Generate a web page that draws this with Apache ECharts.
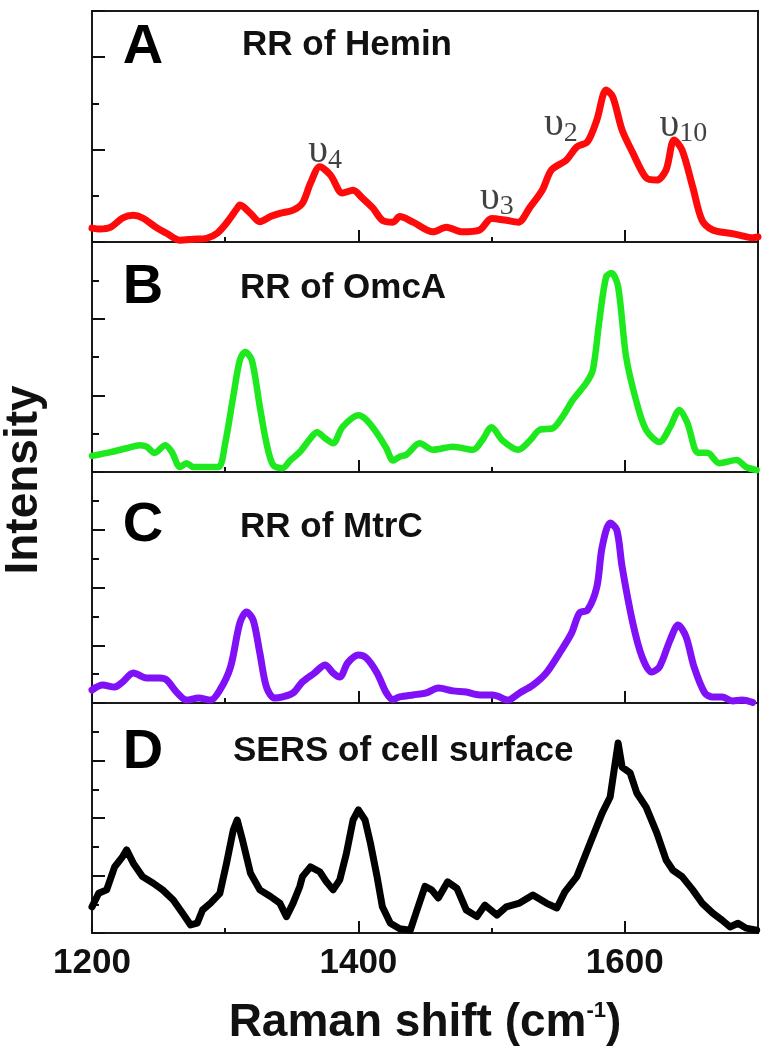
<!DOCTYPE html>
<html><head><meta charset="utf-8">
<script src="https://cdn.jsdelivr.net/npm/echarts@6/dist/echarts.min.js"></script>
<style>html,body{margin:0;padding:0;background:#fff}#c{width:772px;height:1050px}</style>
</head><body><div id="c"></div>
<script>
// ---- data (Raman shift in cm-1, intensity in arbitrary units per panel) ----
const hemX = [1200,1206,1214,1223,1231,1238,1249,1256,1266,1276,1286,1294,1301,1309,1311,1319,1326,1334,1341,1351,1358,1364,1371,1379,1388,1396,1403,1411,1418,1426,1431,1441,1456,1466,1478,1491,1500,1511,1520,1529,1538,1545,1556,1564,1572,1579,1586,1591,1598,1606,1616,1624,1631,1637,1643,1651,1658,1666,1679,1686,1696,1700];
const hemY = [0.30,0.28,0.32,0.52,0.58,0.52,0.30,0.19,0.04,0.06,0.08,0.19,0.41,0.73,0.80,0.62,0.44,0.55,0.62,0.69,0.84,1.27,1.63,1.45,1.06,1.12,0.95,0.73,0.47,0.43,0.55,0.43,0.22,0.32,0.22,0.26,0.51,0.47,0.43,0.76,1.12,1.56,1.77,2.06,2.17,2.64,3.29,3.14,2.42,1.93,1.39,1.34,1.56,2.21,1.99,1.19,0.47,0.26,0.19,0.15,0.09,0.11];

const omcX = [1200,1214,1226,1236,1241,1247,1255,1260,1266,1271,1276,1286,1295,1300,1306,1311,1315,1320,1326,1331,1336,1343,1349,1356,1364,1369,1375,1381,1388,1400,1406,1414,1421,1426,1431,1436,1446,1456,1471,1486,1493,1500,1508,1520,1529,1536,1546,1553,1561,1571,1576,1581,1586,1590,1595,1601,1609,1616,1626,1634,1641,1647,1655,1662,1671,1684,1691,1699];
const omcY = [0.42,0.52,0.62,0.70,0.66,0.50,0.70,0.52,0.13,0.23,0.13,0.13,0.13,0.75,1.96,2.92,3.13,2.92,1.70,0.75,0.18,0.10,0.31,0.52,0.88,1.04,0.88,0.75,1.17,1.48,1.36,1.01,0.62,0.30,0.40,0.45,0.75,0.58,0.66,0.58,0.83,1.17,0.83,0.58,0.83,1.10,1.14,1.43,1.88,2.32,2.66,3.97,5.09,5.19,4.83,3.00,1.80,1.10,0.78,1.17,1.62,1.28,0.50,0.50,0.23,0.31,0.13,0.05];

const mtrX = [1200,1208,1217,1223,1231,1241,1251,1256,1264,1271,1280,1289,1296,1304,1311,1316,1321,1326,1331,1337,1343,1351,1358,1367,1375,1381,1386,1392,1400,1406,1414,1421,1426,1431,1441,1451,1460,1471,1481,1491,1501,1506,1512,1521,1531,1541,1551,1560,1566,1572,1579,1583,1589,1594,1598,1606,1613,1620,1626,1634,1640,1646,1652,1660,1666,1673,1681,1688,1696];
const mtrY = [0.45,0.62,0.55,0.73,1.04,0.87,0.87,0.80,0.35,0.10,0.17,0.10,0.45,1.25,2.77,3.15,2.87,1.73,0.55,0.17,0.21,0.35,0.73,1.04,1.32,1.04,0.90,1.39,1.66,1.56,1.04,0.35,0.12,0.21,0.28,0.35,0.52,0.42,0.38,0.28,0.28,0.21,0.10,0.35,0.62,1.04,1.73,2.42,3.12,3.22,4.02,5.40,6.23,5.99,4.71,2.77,1.59,1.07,1.25,2.18,2.70,2.29,1.25,0.35,0.21,0.21,0.07,0.10,0.02];

const cellX = [1200,1205,1211,1217,1223,1226,1231,1238,1246,1253,1261,1268,1274,1279,1283,1289,1296,1301,1306,1309,1313,1319,1326,1334,1341,1346,1351,1356,1358,1364,1371,1376,1381,1386,1391,1396,1400,1405,1409,1414,1418,1424,1431,1439,1444,1450,1455,1460,1467,1474,1481,1489,1495,1504,1511,1521,1531,1541,1549,1555,1564,1574,1583,1589,1592,1595,1598,1604,1609,1616,1624,1631,1636,1643,1651,1658,1666,1673,1679,1685,1691,1699];
const cellY = [0.91,1.38,1.50,2.30,2.66,2.89,2.43,1.96,1.73,1.50,1.15,0.69,0.28,0.34,0.80,1.04,1.38,2.43,3.57,3.93,3.23,2.08,1.50,1.27,1.04,0.57,1.04,1.62,1.96,2.30,2.13,1.78,1.50,1.85,2.77,3.93,4.28,3.93,3.13,1.96,0.91,0.34,0.15,0.10,0.80,1.62,1.50,1.22,1.78,1.55,0.80,0.57,0.97,0.62,0.91,1.04,1.32,1.04,0.87,1.43,1.96,3.13,4.17,4.73,5.67,6.61,5.77,5.57,4.87,4.38,3.48,2.54,2.19,1.96,1.50,1.04,0.69,0.45,0.21,0.34,0.17,0.10];

const panelLetters = ['A','B','C','D'];
const panelTitles = ['RR of Hemin','RR of OmcA','RR of MtrC','SERS of cell surface'];
const panelYMax = [5, 6, 8, 8];
const xTickLabels = [1200, 1400, 1600];

// band annotations in panel A (position in data units)
const bandX = [1375, 1504, 1552, 1644];
const bandY = [1.95, 0.95, 2.55, 2.53];
const bandSub = ['4', '3', '2', '10'];

// ---- chart ----
const SANS = '"Liberation Sans", Arial, Helvetica, sans-serif';
const SERIF = '"Liberation Serif", "Times New Roman", serif';
const seriesX = [hemX, omcX, mtrX, cellX];
const seriesY = [hemY, omcY, mtrY, cellY];
const colors = ['#ff0a0a', '#1ee81e', '#8010f5', '#000000'];
const widths = [7, 6.5, 7, 7];
const smooths = [0.3, 0.3, 0.3, false];

const gridTops = [11, 242, 472, 703];
const gridHeights = [231, 230, 231, 230];
const grids = [], xAxes = [], yAxes = [], series = [];

for (let i = 0; i < 4; i++) {
  grids.push({left: 92, right: 14, top: gridTops[i], height: gridHeights[i],
    show: true, borderColor: '#1a1a1a', borderWidth: 2, backgroundColor: 'transparent'});
  const last = i === 3;
  xAxes.push({type: 'value', gridIndex: i, min: 1200, max: 1700, interval: 200, position: 'bottom',
    axisLine: {show: false}, splitLine: {show: false},
    axisTick: {inside: true, length: 12, lineStyle: {color: '#111', width: 2}},
    axisLabel: {show: last, showMaxLabel: false, margin: 13, color: '#111',
      fontFamily: SANS, fontWeight: 'bold', fontSize: 35,
      formatter: v => xTickLabels.includes(v) ? String(v) : ''},
    name: last ? '{n|Raman shift (cm}{s|-1}{n|)}' : '',
    nameLocation: 'middle', nameGap: 67,
    nameTextStyle: {rich: {
      n: {fontFamily: SANS, fontWeight: 'bold', fontSize: 46, color: '#111'},
      s: {fontFamily: SANS, fontWeight: 'bold', fontSize: 22, color: '#111', verticalAlign: 'top', padding: [0, 0, 24, 0]}
    }}
  });
  xAxes.push({type: 'value', gridIndex: i, min: 1200, max: 1700, interval: 100, position: 'bottom',
    axisLine: {show: false}, splitLine: {show: false}, axisLabel: {show: false},
    axisTick: {inside: true, length: 5, lineStyle: {color: '#111', width: 2}}});
  yAxes.push({type: 'value', gridIndex: i, min: 0, max: panelYMax[i], interval: 2, position: 'left',
    axisLine: {show: false}, splitLine: {show: false}, axisLabel: {show: false},
    axisTick: {inside: true, length: 13, lineStyle: {color: '#111', width: 2}}});
  yAxes.push({type: 'value', gridIndex: i, min: 0, max: panelYMax[i], interval: 1, position: 'left',
    axisLine: {show: false}, splitLine: {show: false}, axisLabel: {show: false},
    axisTick: {inside: true, length: 7, lineStyle: {color: '#111', width: 2}}});
  series.push({type: 'line', name: panelTitles[i], xAxisIndex: 2 * i, yAxisIndex: 2 * i,
    data: seriesX[i].map((x, k) => [x, seriesY[i][k]]),
    showSymbol: false, smooth: smooths[i], silent: true, clip: false,
    lineStyle: {color: colors[i], width: widths[i], join: 'round', cap: 'round'}, z: 3});
}

series.push({type: 'scatter', xAxisIndex: 0, yAxisIndex: 0, symbolSize: 0, silent: true, z: 4,
  data: bandX.map((x, k) => ({value: [x, bandY[k]], sub: bandSub[k]})),
  label: {show: true, position: 'inside', color: '#111',
    formatter: p => '{u|υ}{s|' + p.data.sub + '}',
    rich: {
      u: {fontFamily: SERIF, fontSize: 40, color: '#111'},
      s: {fontFamily: SERIF, fontSize: 28, color: '#111', padding: [18, 0, 0, 0]}
    }}
});

const letterPos = [[143, 48], [143, 288], [143, 526], [143, 753]];
const titlePos = [[242, 45], [240, 288], [240, 527], [233, 751]];
const graphics = [];
for (let i = 0; i < 4; i++) {
  graphics.push({type: 'text', x: letterPos[i][0], y: letterPos[i][1], silent: true,
    style: {text: panelLetters[i], font: 'bold 56px ' + SANS, fill: '#000', align: 'center', verticalAlign: 'middle'}});
  graphics.push({type: 'text', x: titlePos[i][0], y: titlePos[i][1], silent: true,
    style: {text: panelTitles[i], font: 'bold 35px ' + SANS, fill: '#111', align: 'left', verticalAlign: 'middle'}});
}
graphics.push({type: 'text', x: 24, y: 480, rotation: Math.PI / 2, silent: true,
  style: {text: 'Intensity', font: 'bold 46px ' + SANS, fill: '#111', align: 'center', verticalAlign: 'middle'}});

const chart = echarts.init(document.getElementById('c'));
chart.setOption({
  animation: false,
  backgroundColor: '#fff',
  grid: grids, xAxis: xAxes, yAxis: yAxes, series: series, graphic: graphics
});
</script></body></html>
